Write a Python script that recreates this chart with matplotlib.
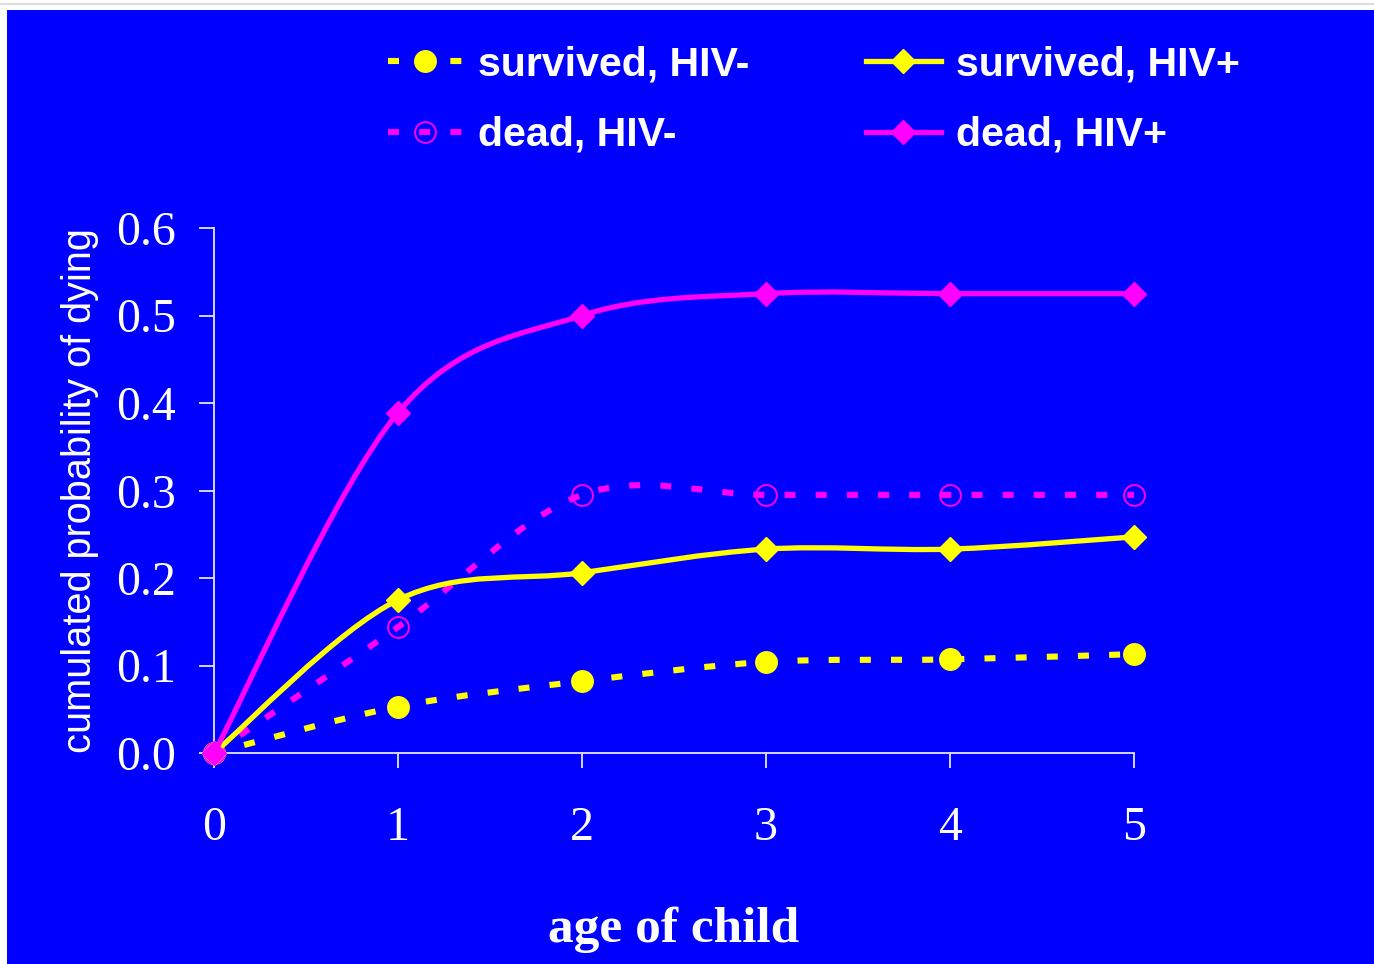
import numpy as np
import matplotlib
matplotlib.use("Agg")
import matplotlib.pyplot as plt
from matplotlib.path import Path
from matplotlib.patches import PathPatch, Rectangle
from matplotlib.lines import Line2D

# ---- data ---------------------------------------------------------------
ages = [0, 1, 2, 3, 4, 5]
survived_neg = [0.0, 0.053, 0.082, 0.104, 0.107, 0.113]
survived_pos = [0.0, 0.175, 0.206, 0.233, 0.233, 0.247]
dead_neg = [0.0, 0.144, 0.295, 0.295, 0.295, 0.295]
dead_pos = [0.0, 0.389, 0.500, 0.525, 0.525, 0.525]

series_labels = ["survived, HIV-", "dead, HIV-", "survived, HIV+", "dead, HIV+"]
xtick_labels = ["0", "1", "2", "3", "4", "5"]
ytick_values = [0.0, 0.1, 0.2, 0.3, 0.4, 0.5, 0.6]

BLUE = "#0000FF"
YELLOW = "#FFFF00"
MAGENTA = "#FF00FF"

W, H, DPI = 1374, 964, 100
fig = plt.figure(figsize=(W / DPI, H / DPI), dpi=DPI, facecolor="white")

# slide background
fig.patches.append(Rectangle((7 / W, 0), 1 - 7 / W, 954 / H,
                             transform=fig.transFigure, facecolor=BLUE,
                             edgecolor="none", zorder=-10))
fig.add_artist(Line2D([0, 1], [1 - 3.5 / H, 1 - 3.5 / H],
                      transform=fig.transFigure, color="#dddddd", lw=1.5, zorder=-9))

ax = fig.add_axes([214 / W, 211 / H, 920 / W, 525 / H])
ax.set_zorder(2)
ax.set_facecolor("none")
ax.set_xlim(0, 5)
ax.set_ylim(0, 0.6)


def smooth_path(xs, ys):
    """Cardinal-spline (Bezier) path through the points, as a spreadsheet 'smoothed line'."""
    pts = np.column_stack([xs, ys]).astype(float)
    n = len(pts)
    verts = [pts[0]]
    codes = [Path.MOVETO]
    for i in range(n - 1):
        p_prev = pts[i - 1] if i > 0 else pts[i]
        p_next2 = pts[i + 2] if i + 2 < n else pts[i + 1]
        c1 = pts[i] + (pts[i + 1] - p_prev) / 6.0
        c2 = pts[i + 1] - (p_next2 - pts[i]) / 6.0
        verts += [c1, c2, pts[i + 1]]
        codes += [Path.CURVE4] * 3
    return Path(verts, codes)


DASH_LW = 4.4
SOLID_LW = 3.8
dash_pattern = (0, (1.8, 3.3))

styles = [
    (survived_neg, YELLOW, dash_pattern, DASH_LW,
     dict(marker="o", markersize=15.5, markerfacecolor=YELLOW, markeredgecolor=YELLOW)),
    (dead_neg, MAGENTA, dash_pattern, DASH_LW,
     dict(marker="o", markersize=15, markerfacecolor="none", markeredgecolor=MAGENTA,
          markeredgewidth=1.4)),
    (survived_pos, YELLOW, "solid", SOLID_LW,
     dict(marker="D", markersize=12.5, markerfacecolor=YELLOW, markeredgecolor=YELLOW)),
    (dead_pos, MAGENTA, "solid", SOLID_LW,
     dict(marker="D", markersize=12.5, markerfacecolor=MAGENTA, markeredgecolor=MAGENTA)),
]

handles = []
for k, (vals, color, ls, lw, mk) in enumerate(styles):
    patch = PathPatch(smooth_path(ages, vals), facecolor="none", edgecolor=color,
                      linewidth=lw, linestyle=ls, capstyle="butt", zorder=3 + k,
                      clip_on=False)
    ax.add_patch(patch)
    ax.plot(ages, vals, linestyle="none", clip_on=False, zorder=3.5 + k, **mk)
    handles.append(Line2D([], [], color=color, linewidth=lw, linestyle=ls,
                          dash_capstyle="butt", label=series_labels[k], **mk))

# ---- axes styling -------------------------------------------------------
for side in ("top", "right"):
    ax.spines[side].set_visible(False)
for side in ("left", "bottom"):
    ax.spines[side].set_color("#E6E6FF")
    ax.spines[side].set_linewidth(1.3)

ax.set_xticks(ages)
ax.set_xticklabels(xtick_labels)
ax.set_yticks(ytick_values)
ax.set_yticklabels([f"{v:.1f}" for v in ytick_values])
ax.tick_params(axis="both", direction="out", length=11, width=1.3,
               color="#E6E6FF", labelcolor="white", labelsize=34.5)
ax.tick_params(axis="y", pad=16.5)
ax.tick_params(axis="x", pad=27.5)
for lab in ax.get_xticklabels() + ax.get_yticklabels():
    lab.set_fontfamily("Liberation Serif")

ax.set_xlabel("age of child", fontsize=37, fontweight="bold",
              family="Liberation Serif", color="white", va="baseline")
ax.xaxis.set_label_coords(0.5, -0.36)

ax.set_ylabel("cumulated probability of dying", fontsize=28.6,
              family="Liberation Sans", color="white",
              ha="center", va="center")
ax.yaxis.set_label_coords(-0.1457, 0.5)

leg = fig.legend(handles=handles, ncol=2, loc="upper left",
                 bbox_to_anchor=(388 / W, 1 - 45 / H), bbox_transform=fig.transFigure,
                 frameon=False, handlelength=1.82, handletextpad=0.38,
                 columnspacing=2.82, labelspacing=0.8, borderpad=0, borderaxespad=0,
                 prop=dict(family="Liberation Sans", weight="bold", size=29.6))
for t in leg.get_texts():
    t.set_color("white")

fig.savefig("out.png", dpi=DPI, facecolor=fig.get_facecolor())
